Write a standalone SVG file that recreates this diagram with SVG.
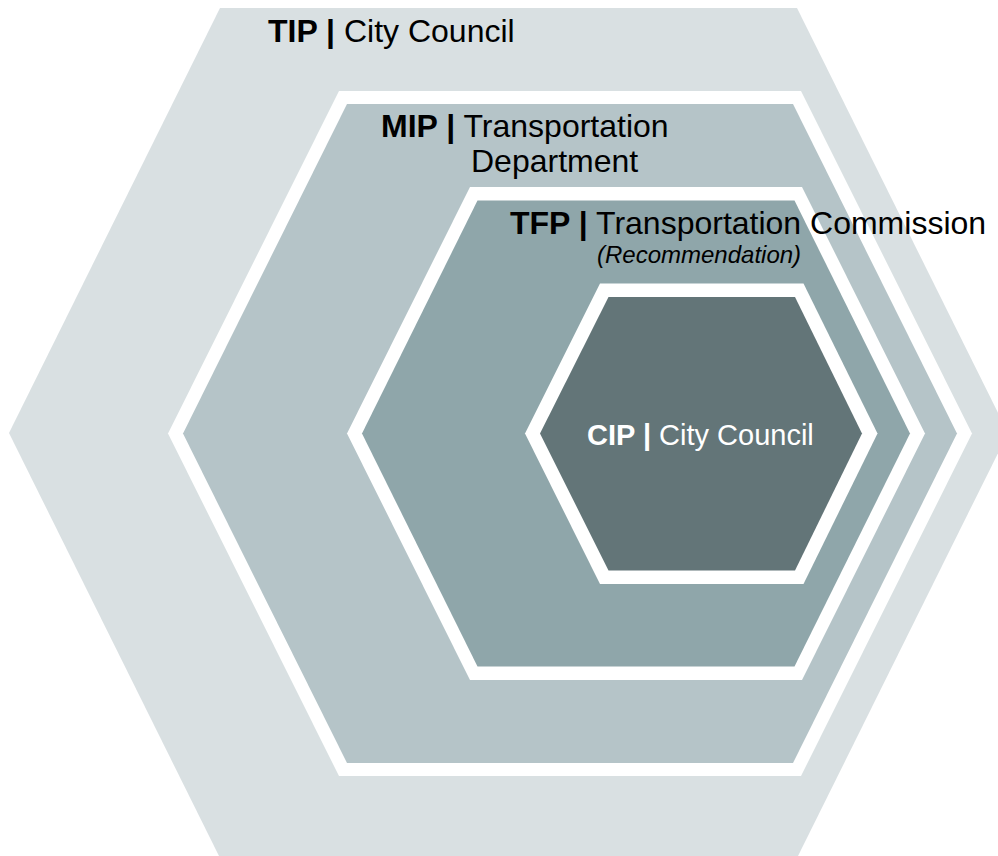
<svg xmlns="http://www.w3.org/2000/svg" width="998" height="856" viewBox="0 0 998 856">
<style>
.lbl{font-family:"Liberation Sans",Arial,sans-serif;font-size:32px;fill:#000}
.b{font-weight:bold}
.ring{fill:#fff}
.tip{fill:#D9E0E2}
.mip{fill:#B5C4C8}
.tfp{fill:#8FA6AA}
.cip{fill:#637578}
</style>
<rect width="998" height="856" fill="#fff"/>
<g id="TIP">
<polygon class="tip" points="220,8 797,8 1008,433 797,858 220,858 9,433"/>
<text class="lbl" x="268" y="42"><tspan class="b">TIP |</tspan> City Council</text>
</g>
<g id="MIP">
<polygon class="ring" points="339,91 801,91 972,433.5 801,776 339,776 168,433.5"/>
<polygon class="mip" points="347,104 793,104 957,433.5 793,763 347,763 183,433.5"/>
<text class="lbl" x="381" y="137"><tspan class="b">MIP |</tspan> Transportation</text>
<text class="lbl" x="471" y="172">Department</text>
</g>
<g id="TFP">
<polygon class="ring" points="470,187 802,187 925,433.5 802,680 470,680 347,433.5"/>
<polygon class="tfp" points="477.5,200.5 794.5,200.5 910,433.5 794.5,666.5 477.5,666.5 362,433.5"/>
<text class="lbl" x="510" y="234"><tspan class="b">TFP |</tspan> Transportation Commission</text>
<text class="lbl" x="597" y="263" style="font-size:24px;font-style:italic">(Recommendation)</text>
</g>
<g id="CIP">
<polygon class="ring" points="600,283.5 803.5,283.5 877.5,433.5 803.5,584 600,584 525,433.5"/>
<polygon class="cip" points="608.5,297 795,297 862,433.5 795,570.5 608.5,570.5 540,433.5"/>
<text class="lbl" x="587" y="445" style="font-size:29px;fill:#fff"><tspan class="b">CIP |</tspan> City Council</text>
</g>
<g id="connectors"/>
</svg>
